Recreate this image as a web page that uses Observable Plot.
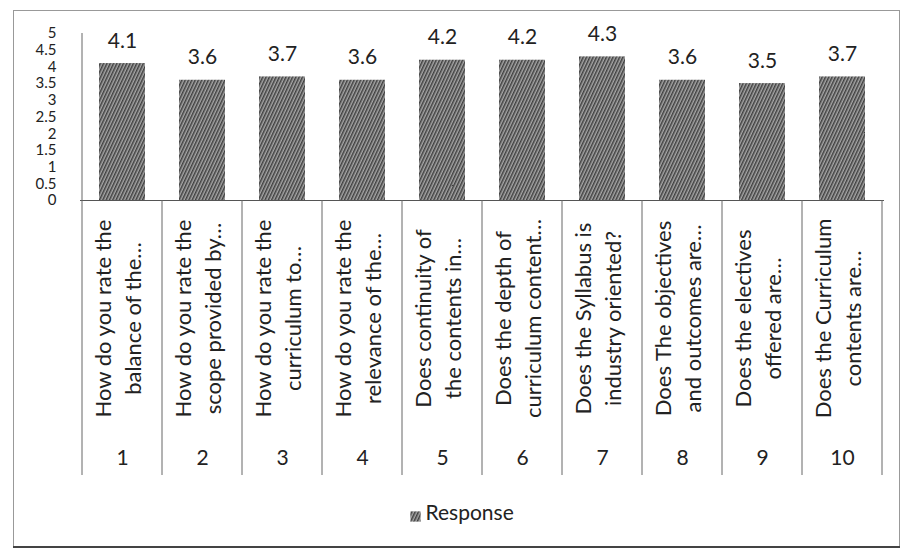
<!DOCTYPE html>
<html>
<head>
<meta charset="utf-8">
<script src="https://cdn.jsdelivr.net/npm/d3@7"></script>
<script src="https://cdn.jsdelivr.net/npm/@observablehq/plot@0.6"></script>
<style>
  html, body { margin: 0; padding: 0; background: white; }
  #chart svg { display: block; }
</style>
</head>
<body>
<div id="chart"></div>
<script>
const categories = ["1", "2", "3", "4", "5", "6", "7", "8", "9", "10"];
const questions = [
  "How do you rate the\nbalance of the…",
  "How do you rate the\nscope provided by…",
  "How do you rate the\ncurriculum to…",
  "How do you rate the\nrelevance of the…",
  "Does continuity of\nthe contents in…",
  "Does the depth of\ncurriculum content…",
  "Does the Syllabus is\nindustry oriented?",
  "Does The objectives\nand outcomes are…",
  "Does the electives\noffered are…",
  "Does the Curriculum\ncontents are…"
];
const values = [4.1, 3.6, 3.7, 3.6, 4.2, 4.2, 4.3, 3.6, 3.5, 3.7];
const yTicks = [0, 0.5, 1, 1.5, 2, 2.5, 3, 3.5, 4, 4.5, 5];
const seriesName = "Response";

const rows = categories.map((c, i) => ({cat: c, q: questions[i], v: values[i]}));

const plot = Plot.plot({
  width: 906,
  height: 552,
  marginLeft: 80,
  marginRight: 22,
  marginTop: 33,
  marginBottom: 352,
  style: {fontFamily: "Lato, 'Open Sans', sans-serif", color: "#222", background: "white"},
  x: {domain: categories, paddingInner: 0.43, paddingOuter: 0.215, axis: null},
  y: {domain: [0, 5], axis: null},
  marks: [
    Plot.axisY({ticks: yTicks, tickSize: 0, tickPadding: 24, fontSize: 15, label: null, tickFormat: d => String(d)}),
    Plot.barY(rows, {x: "cat", y: "v", fill: "url(#hatch)"}),
    Plot.text(rows, {x: "cat", y: "v", text: d => d.v.toFixed(1), dy: -16, lineAnchor: "bottom", fontSize: 21, fill: "#222"}),
    Plot.ruleY([0], {stroke: "#555"}),
    Plot.text(rows, {x: "cat", text: "q", frameAnchor: "bottom", dx: 18, dy: 118, rotate: -90, lineHeight: 1.35, fontSize: 22, fill: "#222"}),
    Plot.text(rows, {x: "cat", text: "cat", frameAnchor: "bottom", dy: 264, fontSize: 21, fill: "#222"}),
    Plot.dot([seriesName], {frameAnchor: "bottom", dx: -67, dy: 316, symbol: "square", r: 5.8, fill: "url(#hatch)"}),
    Plot.text([seriesName], {text: d => d, frameAnchor: "bottom", dx: -57, dy: 319, textAnchor: "start", fontSize: 21, fill: "#222"})
  ]
});

const svg = d3.select(plot);
const defs = svg.insert("defs", ":first-child");
const pat = defs.append("pattern")
  .attr("id", "hatch").attr("width", 3).attr("height", 3)
  .attr("patternUnits", "userSpaceOnUse").attr("patternTransform", "rotate(25)");
pat.append("rect").attr("width", 3).attr("height", 3).attr("fill", "#a6a6a6");
pat.append("rect").attr("width", 1.5).attr("height", 3).attr("fill", "#404040");

const sx = plot.scale("x");
const sy = plot.scale("y");
const gap = (sx.step - sx.bandwidth) / 2;
const bounds = categories.map(c => sx.apply(c) - gap);
bounds.push(bounds[bounds.length - 1] + sx.step);
const y0 = sy.apply(0), yTop = sy.apply(5);
const g = svg.append("g").attr("stroke", "#666").attr("stroke-width", 1).attr("fill", "none");
bounds.forEach(b => {
  g.append("line").attr("x1", b).attr("x2", b).attr("y1", y0).attr("y2", y0 + 275);
});
g.append("line").attr("x1", bounds[0]).attr("x2", bounds[0]).attr("y1", yTop).attr("y2", y0);
// outer chart border
svg.append("rect").attr("x", 13.5).attr("y", 10.5).attr("width", 886).attr("height", 536)
  .attr("fill", "none").attr("stroke", "#999");
svg.append("line").attr("x1", 13).attr("x2", 900).attr("y1", 547).attr("y2", 547)
  .attr("stroke", "#444").attr("stroke-width", 2);

document.getElementById("chart").appendChild(plot);
</script>
</body>
</html>
